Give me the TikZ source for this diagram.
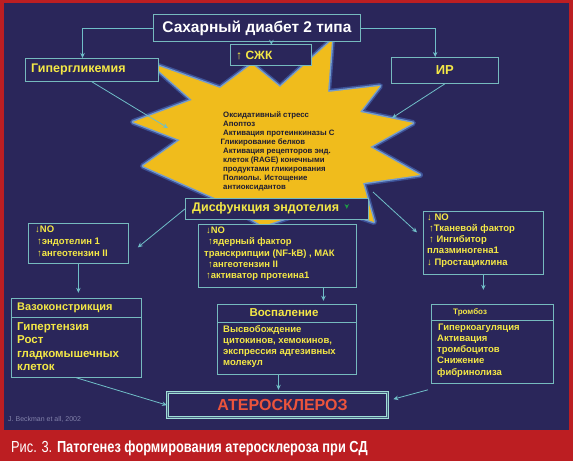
\documentclass[tikz,border=0pt]{standalone}
\usepackage{fontspec}
\setmainfont{Liberation Sans}
\newfontfamily\capfont[FakeStretch=0.8]{Liberation Sans}
\usetikzlibrary{arrows.meta,calc}
\definecolor{navy}{RGB}{42,38,90}
\definecolor{redc}{RGB}{188,30,34}
\definecolor{boxc}{RGB}{118,186,190}
\definecolor{yel}{RGB}{244,232,70}
\definecolor{starc}{RGB}{240,188,28}
\definecolor{glowA}{RGB}{60,80,150}
\definecolor{glowB}{RGB}{115,155,205}
\definecolor{startext}{RGB}{30,28,50}
\definecolor{linec}{RGB}{112,190,200}
\definecolor{greenc}{RGB}{30,150,70}
\definecolor{athc}{RGB}{236,84,60}
\definecolor{athbox}{RGB}{160,222,214}
\definecolor{refc}{RGB}{130,130,170}
\begin{document}
\begin{tikzpicture}[x=1pt,y=-1pt,
  box/.style={draw=boxc, line width=0.8pt, fill=navy, inner sep=0pt},
  ytext/.style={text=yel, inner sep=0pt},
  conn/.style={draw=linec, line width=0.8pt, -{Stealth[length=5pt,width=4.5pt]}},
  blk/.style={ytext, anchor=north west, align=left}]
\fill[redc] (0,0) rectangle (573,461);
\fill[navy] (4,3) rectangle (569,430);
\useasboundingbox (0,0) rectangle (573,461);
% star
\path[fill=starc,
  preaction={draw=glowA, line width=6pt, line join=round},
  preaction={draw=glowB, line width=3pt, line join=round}]
  (150,63) -- (220,88) -- (252,64) -- (280,87) -- (332,40) -- (328,92)
  -- (380,86) -- (360,112) -- (413,123) -- (370,147) -- (420,175)
  -- (363,183) -- (374,222) -- (325,205) -- (263,226) -- (215,198)
  -- (143,166) -- (180,140) -- (133,122) -- (192,100) -- cycle;
\node[anchor=north west, align=left, inner sep=0pt, text=startext,
  font=\fontsize{7.8}{9}\selectfont\bfseries] (stxt) at (223,111.5)
  {Оксидативный стресс\\Апоптоз\\Активация протеинкиназы С\\\hspace*{-2.5pt}Гликирование белков\\Активация рецепторов энд.\\клеток (RAGE) конечными\\продуктами гликирования\\Полиолы. Истощение\\антиоксидантов};
\coordinate (s1) at (168,128);
\coordinate (s2) at (392,118);
\coordinate (s3) at (373,192);
% top boxes
\node[box, minimum width=207pt, minimum height=27pt, anchor=north west, text=white,
  font=\fontsize{15.5}{15.5}\selectfont\bfseries] (sd) at (153,14) {Сахарный диабет 2 типа};
\node[box, minimum width=81pt, minimum height=21pt, anchor=north west] (sjk) at (230,44) {};
\node[ytext, font=\fontsize{12}{12}\selectfont\bfseries, anchor=west] (sjkt) at (236,55) {↑ СЖК};
\node[box, minimum width=133pt, minimum height=23pt, anchor=north west] (hyp) at (25,58) {};
\node[ytext, font=\fontsize{12.5}{12.5}\selectfont\bfseries, anchor=west] (hypt) at (31,69.5) {Гипергликемия};
\node[box, minimum width=107pt, minimum height=26pt, anchor=north west, text=yel,
  font=\fontsize{13}{13}\selectfont\bfseries] (ir) at (391,57) {ИР};
% endothelium
\node[box, minimum width=183pt, minimum height=21pt, anchor=north west] (dys) at (185,198) {};
\node[ytext, font=\fontsize{12.5}{12.5}\selectfont\bfseries, anchor=west] (dyst) at (192,208.5) {Дисфункция эндотелия};
% middle boxes
\node[box, minimum width=100pt, minimum height=40pt, anchor=north west] (lb) at (28,223) {};
\node[blk, font=\fontsize{9.5}{12}\selectfont\bfseries] (lbt) at (35,225.5)
  {↓NO\\\hspace*{2pt}↑эндотелин 1\\\hspace*{2pt}↑ангеотензин II};
\node[box, minimum width=158pt, minimum height=63pt, anchor=north west] (nf) at (198,224) {};
\node[blk, font=\fontsize{9.4}{11.2}\selectfont\bfseries] (nft) at (204,227)
  {\hspace*{2pt}↓NO\\\hspace*{4pt}↑ядерный фактор\\транскрипции (NF-kB) , МАК\\\hspace*{4pt}↑ангеотензин II\\\hspace*{2pt}↑активатор протеина1};
\node[box, minimum width=120pt, minimum height=63pt, anchor=north west] (rb) at (423,211) {};
\node[blk, font=\fontsize{9.5}{11.2}\selectfont\bfseries] (rbt) at (427,213.5)
  {↓ NO\\\hspace*{2pt}↑Тканевой фактор\\\hspace*{2pt}↑ Ингибитор\\плазминогена1\\↓ Простациклина};
% lower boxes
\node[box, minimum width=130pt, minimum height=79pt, anchor=north west] (vaso) at (11,298) {};
\draw[draw=boxc, line width=0.8pt] (vaso.west |- 0,317) -- (vaso.east |- 0,317);
\node[ytext, anchor=west, font=\fontsize{11}{11}\selectfont\bfseries] (vasoh) at (17,307.5) {Вазоконстрикция};
\node[blk, font=\fontsize{11.5}{13.5}\selectfont\bfseries] (vasot) at (17,322)
  {Гипертензия\\Рост\\гладкомышечных\\клеток};
\node[box, minimum width=139pt, minimum height=70pt, anchor=north west] (vosp) at (217,304) {};
\draw[draw=boxc, line width=0.8pt] (vosp.west |- 0,322) -- (vosp.east |- 0,322);
\node[ytext, font=\fontsize{11.5}{11.5}\selectfont\bfseries] (vosph) at (284,313) {Воспаление};
\node[blk, font=\fontsize{9.5}{11}\selectfont\bfseries] (vospt) at (223,325.5)
  {Высвобождение\\цитокинов, хемокинов,\\экспрессия адгезивных\\молекул};
\node[box, minimum width=122pt, minimum height=79pt, anchor=north west] (tromb) at (431,304) {};
\draw[draw=boxc, line width=0.8pt] (tromb.west |- 0,320) -- (tromb.east |- 0,320);
\node[ytext, anchor=west, font=\fontsize{8}{8}\selectfont\bfseries] (trombh) at (453,312) {Тромбоз};
\node[blk, font=\fontsize{9.5}{11.25}\selectfont\bfseries] (trombt) at (437,323.5)
  {\hspace*{1pt}Гиперкоагуляция\\Активация\\тромбоцитов\\Снижение\\фибринолиза};
\node[draw=athbox, line width=1.3pt, double=navy!60!boxc, double distance=0.9pt, fill=navy,
  minimum width=220pt, minimum height=25pt, anchor=north west, inner sep=0pt] (ath) at (167,392) {};
\node[text=athc, font=\fontsize{16}{16}\selectfont\bfseries, inner sep=0pt] (atht) at (282.5,404.5) {АТЕРОСКЛЕРОЗ};
\node[anchor=base west, text=refc, inner sep=0pt, font=\fontsize{7}{7}\selectfont] (ref) at (8,421) {J. Beckman et all, 2002};
% connectors
\draw[conn] (sd.west) -| ($(hyp.north west)!0.43!(hyp.north east)$);
\draw[conn] (sd.east) -| ($(ir.north west)!0.41!(ir.north east)$);
\draw[conn] (sd.south -| sjk.north) ++(0.5,0) -- ($(sd.south -| sjk.north)+(0.5,3)$);
\draw[conn] (hyp.south) -- (s1);
\draw[conn] (ir.south) -- (s2);
\draw[conn] (dys.west) -- ($(lb.east)+(9,4)$);
\draw[conn] (lb.south) -- ($(lb.south)+(0,29)$);
\draw[draw=greenc, line width=0.8pt, -{Stealth[length=5pt,width=4.5pt]}] ($(dys.east)+(-22,-4)$) -- ($(dys.east)+(-22,0)$ |- nf.north);
\draw[conn] ($(nf.south west)!0.79!(nf.south east)$) -- ($(nf.south west)!0.79!(nf.south east)+(0,13)$);
\draw[conn] (s3) -- ($(rb.west)+(-6,-10.5)$);
\draw[conn] (rb.south) -- ($(rb.south)+(0,15)$);
\draw[conn] ($(vosp.south west)!0.44!(vosp.south east)$) -- ($(vosp.south west)!0.44!(vosp.south east)+(0,15)$);
\draw[conn] (vaso.south) -- (ath.west);
\draw[conn] ($(tromb.south west)+(-3,6)$) -- ($(ath.east)+(5,-6)$);
% caption
\node[anchor=base west, text=white, inner sep=0pt, font=\capfont\fontsize{16}{16}\selectfont] (cap) at (11,452)
  {Рис. 3. \textbf{Патогенез формирования атеросклероза при СД}};
\end{tikzpicture}
\end{document}
